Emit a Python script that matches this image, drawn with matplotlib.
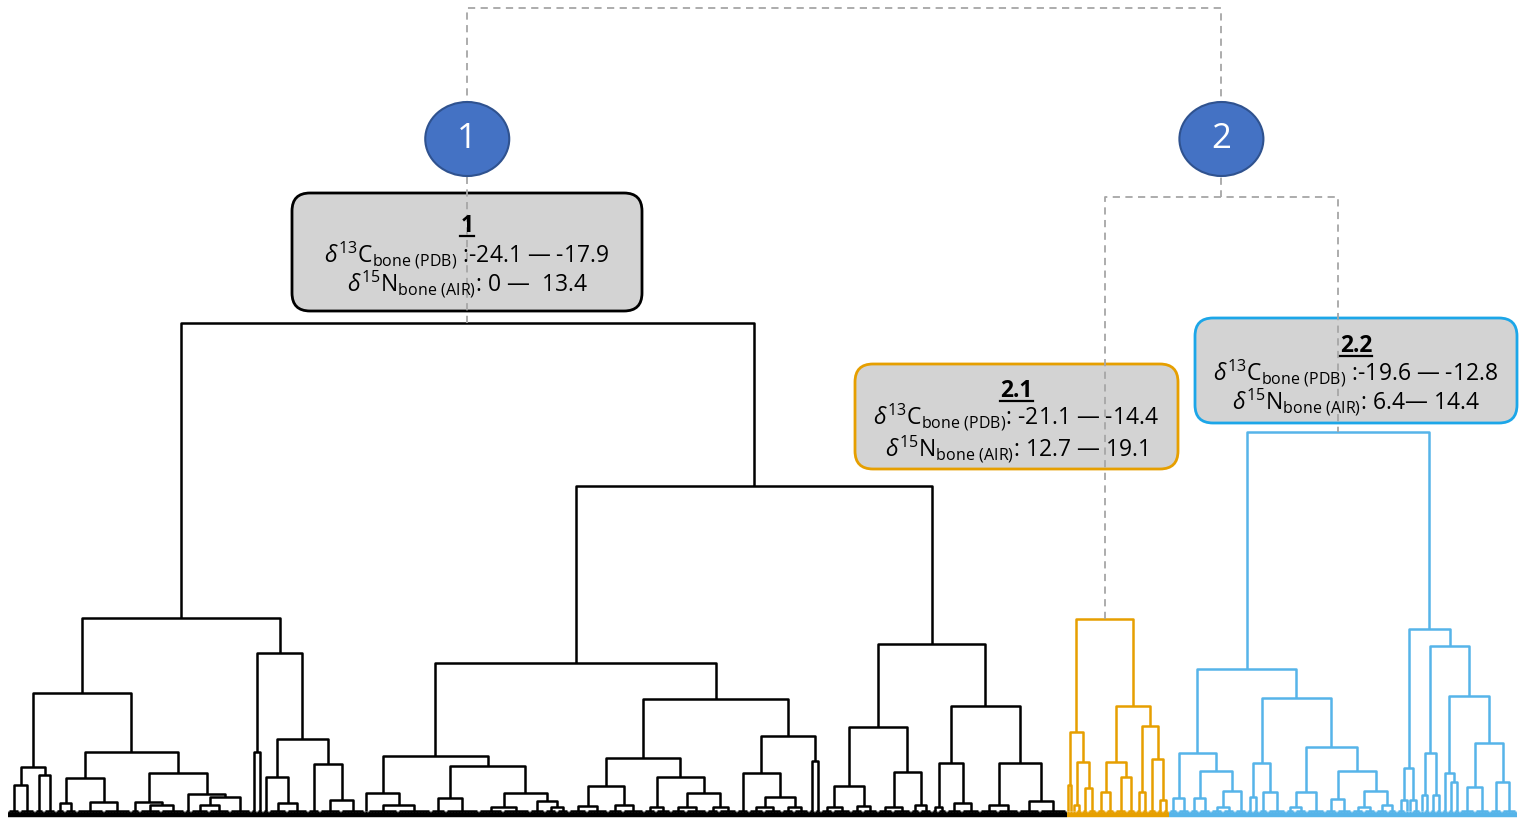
import numpy as np
import matplotlib.pyplot as plt
from matplotlib.collections import LineCollection
from matplotlib.patches import Ellipse, FancyBboxPatch

plt.rcParams['font.family'] = ['Open Sans', 'DejaVu Sans']
plt.rcParams['mathtext.fontset'] = 'custom'
plt.rcParams['mathtext.rm'] = 'Open Sans'
plt.rcParams['mathtext.it'] = 'Open Sans:italic'
plt.rcParams['mathtext.bf'] = 'Open Sans:bold'

# tree nodes: [merge height, left, right]; an int is a bundle of that many leaves
LL = [12.2,
      [4.8, [3.0, 4, 5], [4.0, 3, 4]],
      [6.3, [3.7, [1.2, 3, 4], [1.3, 9, 9]],
            [4.2, [1.3, 3, [1.0, 7, 8]], [2.1, 2, [1.8, [1.0, 6, 7], 7]]]]]
LR = [16.2, [6.3, 2, 2],
      [7.6, [3.8, 2, [1.2, 6, 7]], [5.1, 4, [1.5, 7, 8]]]]
RL = [15.2,
      [5.9, [2.2, 1, [1.0, 10, 11]],
            [4.9, [1.7, 5, 11], [2.2, [0.8, 8, 9], [1.4, 5, [0.8, 4, 4]]]]],
      [11.6, [5.7, [2.9, [0.9, 6, 7], [1.0, 5, 7]],
                   [3.8, [0.8, 4, 5], [2.2, [0.8, 5, 7], [0.8, 4, 6]]]],
             [7.9, [4.2, 4, [1.8, [0.8, 5, 6], [0.8, 4, 5]]], [5.4, 2, 2]]]]
RR = [17.1,
      [8.8, [2.9, [0.8, 4, 6], [0.9, 4, 5]], [4.3, [0.8, 5, 6], [1.0, 3, 4]]],
      [10.9, [5.2, [0.8, 2, 3], [1.2, 5, 6]], [5.2, [1.0, 6, 7], [1.4, 7, 9]]]]
cluster_1 = [49.2, [19.7, LL, LR], [32.9, RL, RR]]

cluster_21 = [19.6,
              [8.3, [3.0, 1, 1], [5.3, [1.0, 1, 2], [2.7, 2, 3]]],
              [10.9, [5.3, [2.3, 3, 3], [3.8, 4, 3]],
                     [8.9, [2.3, 2, 2], [5.6, 3, [1.5, 2, 2]]]]]

cluster_22 = [38.3,
              [14.6,
               [6.2, [1.7, 3, 4], [4.4, [1.7, 3, 4], [2.4, [0.8, 4, 4], 4]]],
               [11.7, [5.2, [1.8, 2, 2], [2.3, 3, 6]],
                      [6.8, [2.3, [0.8, 3, 4], 6],
                            [4.4, [1.6, 4, 5], [2.4, [0.8, 4, 4], [1.0, 4, 3]]]]]],
              [18.6,
               [4.7, [1.5, 3, 1], [1.5, 1, 3]],
               [16.9, [6.2, [2.0, 1, 2], [2.0, 2, 2]],
                      [11.9, [4.2, 2, [3.3, 2, 2]], [7.2, [2.8, 5, 5], [3.3, 4, 5]]]]]]

h_cluster_2 = 61.8
h_root = 80.7

cluster_colors = ['black', '#E69F00', '#56B4E9']
box_titles = ['1', '2.1', '2.2']
box_c13 = [r'$\delta^{13}$C$_{\mathregular{bone\ (PDB)}}$ :-24.1 — -17.9',
           r'$\delta^{13}$C$_{\mathregular{bone\ (PDB)}}$: -21.1 — -14.4',
           r'$\delta^{13}$C$_{\mathregular{bone\ (PDB)}}$ :-19.6 — -12.8']
box_n15 = [r'$\delta^{15}$N$_{\mathregular{bone\ (AIR)}}$: 0 —  13.4',
           r'$\delta^{15}$N$_{\mathregular{bone\ (AIR)}}$: 12.7 — 19.1',
           r'$\delta^{15}$N$_{\mathregular{bone\ (AIR)}}$: 6.4— 14.4']

BUNDLE_H = 0.45


def build(node, segs, base, pos):
    if isinstance(node, int):
        x0 = pos[0]
        pos[0] += node
        xs = x0 + 0.5 + np.arange(node)
        base.append([(x0, 0), (x0 + node, 0)])
        segs.append([(xs[0], BUNDLE_H), (xs[-1], BUNDLE_H)])
        for x in xs:
            segs.append([(x, 0), (x, BUNDLE_H)])
        return xs.mean(), BUNDLE_H
    h, left, right = node
    xl, hl = build(left, segs, base, pos)
    xr, hr = build(right, segs, base, pos)
    segs.append([(xl, hl), (xl, h), (xr, h), (xr, hr)])
    return (xl + xr) / 2, h


# layout helpers: picture pixels -> data units
def dx(px):
    return (px - 8) / 3


def dy(py):
    return (815 - py) / 10


fig = plt.figure(figsize=(15.23, 8.26), dpi=100)
ax = fig.add_axes([0, 0, 1, 1])
ax.set_xlim(dx(0), dx(1523))
ax.set_ylim(dy(826), dy(0))
ax.axis('off')

pos = [0]
tops = []
for tree, col in zip([cluster_1, cluster_21, cluster_22], cluster_colors):
    segs, base = [], []
    tops.append(build(tree, segs, base, pos))
    ax.add_collection(LineCollection(segs, colors=col, linewidths=1.8, zorder=2))
    ax.add_collection(LineCollection(base, colors=col, linewidths=3.2, zorder=2))

(x1, h1), (xo, ho), (xb, hb) = tops
x2 = (xo + xb) / 2
dash = dict(color='#A6A6A6', lw=1.3, ls=(0, (4, 3)), zorder=4)
ax.plot([xo, xo, xb, xb], [ho, h_cluster_2, h_cluster_2, hb], **dash)
ax.plot([x1, x1, x2, x2], [h1, h_root, h_root, h_cluster_2], **dash)

# numbered circles on the two main branches
for x, lab in [(x1, '1'), (x2, '2')]:
    ax.add_patch(Ellipse((x, dy(139)), 84 / 3, 74 / 10, fc='#4472C4', ec='#2F528F',
                         lw=1.5, zorder=5))
    ax.text(x, dy(139), lab, color='white', fontsize=25, ha='center', va='center',
            zorder=6)

# summary boxes: left, top, right, bottom (pixels), and text baselines
boxes = [(292, 193, 642, 311), (855, 364, 1178, 469), (1195, 318, 1517, 423)]
baselines = [(232, 263, 292), (397, 425, 457), (352, 381, 410)]
edges = ['black', '#E69F00', '#1CA6E8']

renderer = fig.canvas.get_renderer()
for (l, t, r, b), (y0, y1, y2), ec, title, c13, n15 in zip(
        boxes, baselines, edges, box_titles, box_c13, box_n15):
    ax.add_patch(FancyBboxPatch((dx(l), dy(b)), (r - l) / 3, (b - t) / 10,
                                boxstyle='round,pad=0,rounding_size=6', mutation_aspect=0.3,
                                fc='#D3D3D3', ec=ec, lw=2, zorder=3))
    xc = dx((l + r) / 2)
    tt = ax.text(xc, dy(y0), title, fontsize=16.5, fontweight='bold', ha='center',
                 va='baseline', zorder=5)
    ax.text(xc, dy(y1), c13, fontsize=16.5, ha='center', va='baseline', zorder=5)
    ax.text(xc, dy(y2), n15, fontsize=16.5, ha='center', va='baseline', zorder=5)
    bb = tt.get_window_extent(renderer).transformed(ax.transData.inverted())
    ax.plot([bb.x0, bb.x1], [dy(y0 + 4)] * 2, color='black', lw=1.6, zorder=5)

fig.savefig('out.png', dpi=100)
